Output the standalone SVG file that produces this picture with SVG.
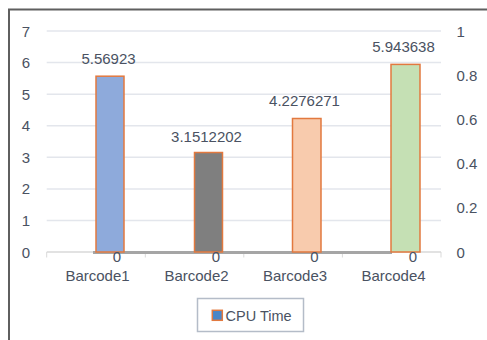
<svg xmlns="http://www.w3.org/2000/svg" width="487" height="340" viewBox="0 0 487 340">
<style>
text{font-family:"Liberation Sans",Arial,sans-serif;fill:#4a5262}
.ax{font-size:15px}
.dl{font-size:15px;text-anchor:middle}
.cat{font-size:15px;text-anchor:middle}
.grid{stroke:#e3e6ec;stroke-width:1.5}
.bar{stroke:#e2793f;stroke-width:1.5}
.tick{stroke:#d9d9d9;stroke-width:1}
</style>
<rect x="0" y="0" width="487" height="340" fill="#ffffff"/>
<g id="frame">
<path d="M9,340 V9.5 H487" fill="none" stroke="#5f5f5f" stroke-width="2"/>
</g>
<g id="gridlines">
<line class="grid" x1="46.7" y1="31" x2="441" y2="31"/>
<line class="grid" x1="46.7" y1="62.6" x2="441" y2="62.6"/>
<line class="grid" x1="46.7" y1="94.2" x2="441" y2="94.2"/>
<line class="grid" x1="46.7" y1="125.7" x2="441" y2="125.7"/>
<line class="grid" x1="46.7" y1="157.3" x2="441" y2="157.3"/>
<line class="grid" x1="46.7" y1="188.9" x2="441" y2="188.9"/>
<line class="grid" x1="46.7" y1="220.4" x2="441" y2="220.4"/>
<line x1="46.7" y1="252" x2="441" y2="252" stroke="#d9d9d9" stroke-width="1.5"/>
<line class="tick" x1="46.7" y1="252" x2="46.7" y2="257.5"/>
<line class="tick" x1="145.3" y1="252" x2="145.3" y2="257.5"/>
<line class="tick" x1="243.8" y1="252" x2="243.8" y2="257.5"/>
<line class="tick" x1="342.4" y1="252" x2="342.4" y2="257.5"/>
<line class="tick" x1="441" y1="252" x2="441" y2="257.5"/>
</g>
<g id="left-axis" class="ax" text-anchor="end">
<text x="30" y="36.5">7</text>
<text x="30" y="68">6</text>
<text x="30" y="99.7">5</text>
<text x="30" y="131.2">4</text>
<text x="30" y="162.8">3</text>
<text x="30" y="194.4">2</text>
<text x="30" y="225.9">1</text>
<text x="30" y="257.5">0</text>
</g>
<g id="right-axis" class="ax">
<text x="456.5" y="36.5">1</text>
<text x="456.5" y="80.7">0.8</text>
<text x="456.5" y="124.9">0.6</text>
<text x="456.5" y="169.1">0.4</text>
<text x="456.5" y="213.3">0.2</text>
<text x="456.5" y="257.5">0</text>
</g>
<g id="connectors">
<line x1="93" y1="252.5" x2="392" y2="252.5" stroke="#a5a5a5" stroke-width="3"/>
</g>
<g id="bar-barcode1">
<rect class="bar" x="96" y="76.2" width="28" height="175.8" fill="#8eaadb"/>
<text class="dl" x="108.5" y="64">5.56923</text>
<text class="dl" x="117" y="262">0</text>
<text class="cat" x="97.5" y="281">Barcode1</text>
</g>
<g id="bar-barcode2">
<rect class="bar" x="194.5" y="152.5" width="28" height="99.5" fill="#7f7f7f"/>
<text class="dl" x="206.5" y="141.7">3.1512202</text>
<text class="dl" x="216" y="262">0</text>
<text class="cat" x="196.5" y="281">Barcode2</text>
</g>
<g id="bar-barcode3">
<rect class="bar" x="292.5" y="118.5" width="28.5" height="133.5" fill="#f8cbad"/>
<text class="dl" x="304.5" y="106">4.2276271</text>
<text class="dl" x="314.5" y="262">0</text>
<text class="cat" x="295" y="281">Barcode3</text>
</g>
<g id="bar-barcode4">
<rect class="bar" x="391" y="64.4" width="29" height="187.6" fill="#c5e0b4"/>
<text class="dl" x="403.5" y="51.7">5.943638</text>
<text class="dl" x="413" y="262">0</text>
<text class="cat" x="393.5" y="281">Barcode4</text>
</g>
<g id="legend">
<rect x="197.5" y="298.5" width="106" height="33" fill="#ffffff" stroke="#b4bcc8" stroke-width="1.5"/>
<rect x="212.3" y="310.3" width="10" height="10" fill="#4a86c8" stroke="#e2793f" stroke-width="1.5"/>
<text x="225.5" y="320.7" style="font-size:14.5px">CPU Time</text>
</g>
</svg>
